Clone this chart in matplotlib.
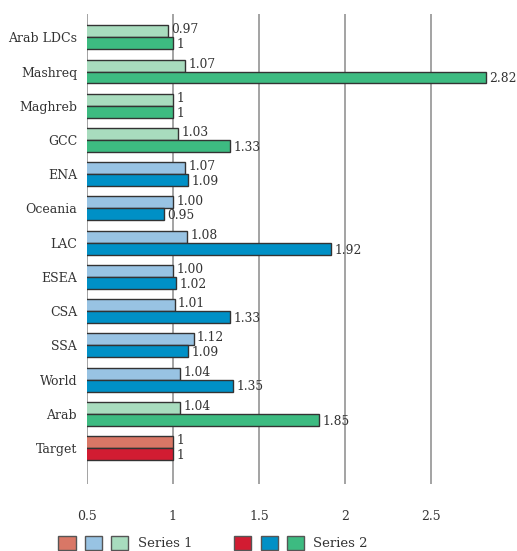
import numpy as np
import matplotlib.pyplot as plt
from matplotlib.patches import Patch
from matplotlib.legend_handler import HandlerTuple

plt.rcParams['font.family'] = ['DejaVu Serif']

categories = ['Arab LDCs', 'Mashreq', 'Maghreb', 'GCC', 'ENA', 'Oceania', 'LAC',
              'ESEA', 'CSA', 'SSA', 'World', 'Arab', 'Target']
groups = ['g', 'g', 'g', 'g', 'b', 'b', 'b', 'b', 'b', 'b', 'b', 'g', 'r']
series1 = [0.97, 1.07, 1, 1.03, 1.07, 1.00, 1.08, 1.00, 1.01, 1.12, 1.04, 1.04, 1]
series2 = [1, 2.82, 1, 1.33, 1.09, 0.95, 1.92, 1.02, 1.33, 1.09, 1.35, 1.85, 1]
labels1 = ['0.97', '1.07', '1', '1.03', '1.07', '1.00', '1.08', '1.00', '1.01', '1.12', '1.04', '1.04', '1']
labels2 = ['1', '2.82', '1', '1.33', '1.09', '0.95', '1.92', '1.02', '1.33', '1.09', '1.35', '1.85', '1']
xticks = [0.5, 1, 1.5, 2, 2.5]

col1 = {'r': '#d97766', 'b': '#98c3e3', 'g': '#a8dcbe'}
col2 = {'r': '#d21c32', 'b': '#0090c6', 'g': '#3dbb81'}

fig = plt.figure(figsize=(5.17, 5.51), dpi=100)
ax = fig.add_axes([0.168, 0.1216, 0.832, 0.8530])

y = np.arange(len(categories))
h = 0.35
ax.barh(y - h / 2, series1, height=h, color=[col1[g] for g in groups],
        edgecolor='#333333', linewidth=1, zorder=3)
ax.barh(y + h / 2, series2, height=h, color=[col2[g] for g in groups],
        edgecolor='#333333', linewidth=1, zorder=3)

for i in range(len(categories)):
    ax.text(series1[i] + 0.02, y[i] - h / 2 - 0.04, labels1[i], va='center', ha='left',
            fontsize=8.8, color='#333333')
    ax.text(series2[i] + 0.02, y[i] + h / 2 + 0.04, labels2[i], va='center', ha='left',
            fontsize=8.8, color='#333333')

ax.set_xlim(0.5, 3.0)
ax.set_ylim(13.05, -0.68)
ax.set_xticks(xticks)
ax.set_xticklabels(['0.5', '1', '1.5', '2', '2.5'])
ax.set_yticks(y)
ax.set_yticklabels(categories)
ax.tick_params(axis='both', length=0, labelsize=9, colors='#333333')
ax.tick_params(axis='x', pad=19)
ax.tick_params(axis='y', pad=7)
for s in ['top', 'right', 'bottom', 'left']:
    ax.spines[s].set_visible(False)
ax.grid(axis='x', color='#8a8a8a', linewidth=1.1, zorder=0)
ax.set_axisbelow(True)

h1 = tuple(Patch(facecolor=col1[g], edgecolor='#555555') for g in ['r', 'b', 'g'])
h2 = tuple(Patch(facecolor=col2[g], edgecolor='#555555') for g in ['r', 'b', 'g'])
fig.legend([h1, h2], ['Series 1', 'Series 2'],
           handler_map={tuple: HandlerTuple(ndivide=None, pad=0.7)},
           loc='center left', bbox_to_anchor=(0.09, 0.0145), ncol=2, frameon=False,
           handlelength=5.3, handleheight=1.3, fontsize=9.5, columnspacing=3.2,
           handletextpad=0.7, labelcolor='#333333')

fig.savefig('out.png', dpi=100)
